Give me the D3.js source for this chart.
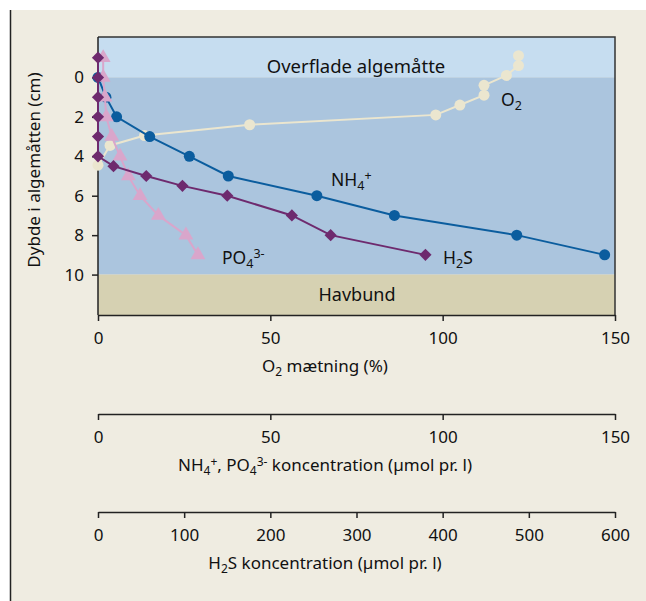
<!DOCTYPE html>
<html>
<head>
<meta charset="utf-8">
<script src="https://cdn.jsdelivr.net/npm/d3@7"></script>
<style>
  body { margin: 0; background: #fff; }
  text { font-family: "Noto Sans", sans-serif; fill: #111; }
</style>
</head>
<body>
<div id="chart"></div>
<script>
// depth in cm (positive = down into the mat)
const o2Depth = [-1.1, -0.6, -0.1, 0.4, 0.9, 1.4, 1.9, 2.4, 2.95, 3.45, 4.45];
const o2Value = [122, 122, 118.5, 112, 112, 105, 98, 44, 13.5, 3.5, 0];

const nh4Depth = [0, 1, 2, 3, 4, 5, 6, 7, 8, 9];
const nh4Value = [0, 2.3, 5.4, 15, 26.5, 37.8, 63.5, 86, 121.5, 147];

const po4Depth = [-1, 0, 1, 2, 3, 4, 5, 6, 7, 8, 9];
const po4Value = [1.5, 1.5, 2, 2.4, 4, 6.4, 8.8, 12.2, 17.5, 25.5, 29];

const h2sDepth = [-1, 0, 1, 2, 3, 4, 4.5, 5, 5.5, 6, 7, 8, 9];
const h2sValue = [0, 0, 0, 0, 0, 0, 18, 56, 98, 150, 225, 270, 380];

const depthTicks = [0, 2, 4, 6, 8, 10];
const o2Ticks = [0, 50, 100, 150];
const concTicks = [0, 50, 100, 150];
const h2sTicks = [0, 100, 200, 300, 400, 500, 600];

const W = 646, H = 601;
const mLeft = 98, mRight = 615, mTop = 37, mBottom = 315;

const svg = d3.select("#chart").append("svg")
  .attr("width", W).attr("height", H);

// background panel
svg.append("rect").attr("x", 10).attr("y", 10).attr("width", W - 10).attr("height", H - 10)
  .attr("fill", "#efece1");
svg.append("line").attr("x1", 10.5).attr("x2", 10.5).attr("y1", 10).attr("y2", H)
  .attr("stroke", "#222").attr("stroke-width", 1.5);

let x = d3.scaleLinear().domain([0, 150]).range([mLeft, mRight]);
let xH2S = d3.scaleLinear().domain([0, 600]).range([mLeft, mRight]);
let y = d3.scaleLinear().domain([-2.05, 12.05]).range([mTop, mBottom]);

// zones
svg.append("rect").attr("x", mLeft).attr("y", y(-2.05)).attr("width", mRight - mLeft)
  .attr("height", y(0) - y(-2.05)).attr("fill", "#c6ddf0");
svg.append("rect").attr("x", mLeft).attr("y", y(0)).attr("width", mRight - mLeft)
  .attr("height", y(10) - y(0)).attr("fill", "#abc5de");
svg.append("rect").attr("x", mLeft).attr("y", y(10)).attr("width", mRight - mLeft)
  .attr("height", y(12.05) - y(10)).attr("fill", "#d6d1b2");

// frame top / right
svg.append("path")
  .attr("d", `M${mLeft},${mTop}H${mRight}V${mBottom}`)
  .attr("fill", "none").attr("stroke", "#333").attr("stroke-width", 1.5);

svg.append("text").attr("x", 356).attr("y", 73).attr("text-anchor", "middle")
  .style("font-size", "18.5px").text("Overflade algemåtte");
svg.append("text").attr("x", 357).attr("y", 301).attr("text-anchor", "middle")
  .style("font-size", "18px").text("Havbund");

// axes
function styleAxis(g) {
  g.select(".domain").attr("stroke", "#222").attr("stroke-width", 1.5);
  g.selectAll(".tick line").attr("stroke", "#222").attr("stroke-width", 1.5);
  g.selectAll(".tick text").style("font-size", "17px").attr("fill", "#111")
    .style("font-family", "'Noto Sans', sans-serif");
}

const yAxis = svg.append("g").attr("transform", `translate(${mLeft},0)`)
  .call(d3.axisLeft(y).tickValues(depthTicks).tickSize(6).tickSizeOuter(0).tickPadding(8));
yAxis.select(".domain").attr("d", `M0,${mTop}V${mBottom}`);
styleAxis(yAxis);

const xAxis = svg.append("g").attr("transform", `translate(0,${mBottom})`)
  .call(d3.axisBottom(x).tickValues(o2Ticks).tickSize(6).tickSizeOuter(0).tickPadding(11));
styleAxis(xAxis);

const cAxis = svg.append("g").attr("transform", `translate(0,414)`)
  .call(d3.axisBottom(x).tickValues(concTicks).tickSize(6).tickSizeOuter(0).tickPadding(11));
styleAxis(cAxis);

const hAxis = svg.append("g").attr("transform", `translate(0,512)`)
  .call(d3.axisBottom(xH2S).tickValues(h2sTicks).tickSize(6).tickSizeOuter(0).tickPadding(11));
styleAxis(hAxis);

// axis titles
function subText(sel, parts, small) {
  parts.forEach(p => {
    const t = sel.append("tspan").text(p[0]);
    if (p[1] === "sub") t.attr("baseline-shift", "-30%").style("font-size", small);
    if (p[1] === "sup") t.attr("baseline-shift", "45%").style("font-size", small);
  });
}

let t1 = svg.append("text").attr("x", 325).attr("y", 372).attr("text-anchor", "middle").style("font-size", "17px");
subText(t1, [["O"], ["2", "sub"], [" mætning (%)"]], "12px");

let t2 = svg.append("text").attr("x", 325).attr("y", 471).attr("text-anchor", "middle").style("font-size", "17px");
subText(t2, [["NH"], ["4", "sub"], ["+", "sup"], [", PO"], ["4", "sub"], ["3-", "sup"], [" koncentration (µmol pr. l)"]], "12px");

let t3 = svg.append("text").attr("x", 325).attr("y", 569).attr("text-anchor", "middle").style("font-size", "17px");
subText(t3, [["H"], ["2", "sub"], ["S koncentration (µmol pr. l)"]], "12px");

svg.append("text").attr("transform", `translate(40,170) rotate(-90)`)
  .attr("text-anchor", "middle").style("font-size", "17px").text("Dybde i algemåtten (cm)");

// series
const line = d3.line().x(d => d[0]).y(d => d[1]);

const po4Pts = po4Value.map((v, i) => [x(v), y(po4Depth[i])]);
const h2sPts = h2sValue.map((v, i) => [xH2S(v), y(h2sDepth[i])]);
const nh4Pts = nh4Value.map((v, i) => [x(v), y(nh4Depth[i])]);
const o2Pts = o2Value.map((v, i) => [x(v), y(o2Depth[i])]);

svg.append("path").attr("d", line(o2Pts)).attr("fill", "none").attr("stroke", "#ebe6cf").attr("stroke-width", 2);
svg.append("g").selectAll("circle").data(o2Pts).enter().append("circle")
  .attr("cx", d => d[0]).attr("cy", d => d[1]).attr("r", 5.5)
  .attr("fill", "#ebe6cf");

svg.append("path").attr("d", line(nh4Pts)).attr("fill", "none").attr("stroke", "#0b5d9e").attr("stroke-width", 2);
svg.append("g").selectAll("circle").data(nh4Pts).enter().append("circle")
  .attr("cx", d => d[0]).attr("cy", d => d[1]).attr("r", 5.5)
  .attr("fill", "#0b5d9e");

svg.append("path").attr("d", line(po4Pts)).attr("fill", "none").attr("stroke", "#d9a6cb").attr("stroke-width", 2);
svg.append("g").selectAll("path").data(po4Pts).enter().append("path")
  .attr("transform", d => `translate(${d[0]},${d[1]})`)
  .attr("d", d3.symbol().type(d3.symbolTriangle).size(95))
  .attr("fill", "#d9a6cb");

svg.append("path").attr("d", line(h2sPts)).attr("fill", "none").attr("stroke", "#6e2a6e").attr("stroke-width", 2);
svg.append("g").selectAll("path").data(h2sPts).enter().append("path")
  .attr("transform", d => `translate(${d[0]},${d[1]})`)
  .attr("d", d3.symbol().type(d3.symbolDiamond2).size(95))
  .attr("fill", "#6e2a6e");

// series labels
let l1 = svg.append("text").attr("x", 501).attr("y", 106).style("font-size", "17.5px");
subText(l1, [["O"], ["2", "sub"]], "12.5px");
let l2 = svg.append("text").attr("x", 331).attr("y", 186).style("font-size", "17.5px");
subText(l2, [["NH"], ["4", "sub"], ["+", "sup"]], "12.5px");
let l3 = svg.append("text").attr("x", 443).attr("y", 264).style("font-size", "17.5px");
subText(l3, [["H"], ["2", "sub"], ["S"]], "12.5px");
let l4 = svg.append("text").attr("x", 222).attr("y", 264).style("font-size", "17.5px");
subText(l4, [["PO"], ["4", "sub"], ["3-", "sup"]], "12.5px");
</script>
</body>
</html>
